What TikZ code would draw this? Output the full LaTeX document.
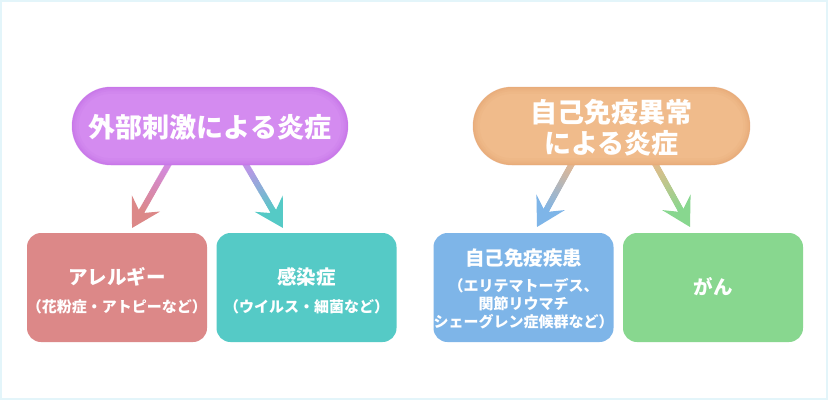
\documentclass[tikz,border=0pt]{standalone}
\usepackage{fontspec}
\setmainfont{Noto Sans CJK JP}
\usetikzlibrary{arrows.meta,calc}
\definecolor{frame}{HTML}{E3F5FA}
\definecolor{purp}{HTML}{D48BF0}
\definecolor{purpedge}{HTML}{BF66E6}
\definecolor{orng}{HTML}{F0BB8B}
\definecolor{orngedge}{HTML}{E39E6C}
\definecolor{pinkbox}{HTML}{DC8888}
\definecolor{tealbox}{HTML}{55CAC6}
\definecolor{bluebox}{HTML}{7EB5E8}
\definecolor{greenbox}{HTML}{88D78F}
\definecolor{arrpurp}{HTML}{D18AEE}
\definecolor{arrorng}{HTML}{EDB88A}
\newcommand{\gradarrow}[4]{%
  \foreach \i in {0,...,29}{%
    \pgfmathsetmacro\fa{0.78*\i/30}%
    \pgfmathsetmacro\fb{0.78*(\i+1.4)/30}%
    \pgfmathsetmacro\pc{100*\i/29}%
    \draw[line width=6pt, draw=#4!\pc!#3] ($(#1)!\fa!(#2)$) -- ($(#1)!\fb!(#2)$);
  }%
  \draw[line width=6pt, draw=#4, fill=#4, -{Stealth[length=28pt,width=32pt,inset=11pt]}] ($(#1)!0.74!(#2)$) -- (#2);
}
\begin{document}
\begin{tikzpicture}[x=1pt,y=-1pt,
  pill/.style={rectangle, rounded corners=39pt, minimum height=78pt, inner sep=0pt, text=white, align=center},
  box/.style={rectangle, rounded corners=14pt, minimum width=180pt, minimum height=109pt, inner sep=0pt},
  pilltext/.style={text=white, align=center, inner sep=0pt, font=\fontsize{27}{31}\selectfont\bfseries},
  titletext/.style={text=white, align=center, inner sep=0pt, font=\fontsize{19.5}{24}\selectfont\bfseries},
  subtext/.style={text=white, align=center, inner sep=0pt, font=\fontsize{15}{18}\selectfont\bfseries}]
\useasboundingbox (0,0) rectangle (828,400);
\fill[white] (0,0) rectangle (828,400);
\draw[frame, line width=2pt] (1,1) rectangle (827,399);

% arrows (drawn first, under the pills)
\coordinate (a1s) at (172,158); \coordinate (a1e) at (132,228);
\coordinate (a2s) at (242,158); \coordinate (a2e) at (283,228);
\coordinate (a3s) at (575,158); \coordinate (a3e) at (537,227);
\coordinate (a4s) at (652,158); \coordinate (a4e) at (690,227);
\gradarrow{a1s}{a1e}{arrpurp}{pinkbox}
\gradarrow{a2s}{a2e}{arrpurp}{tealbox}
\gradarrow{a3s}{a3e}{arrorng}{bluebox}
\gradarrow{a4s}{a4e}{arrorng}{greenbox}

% pills
\node[pill, fill=purp, minimum width=276pt] (p1) at (210,126) {};
\begin{scope}
  \clip[rounded corners=39pt] (p1.south west) rectangle (p1.north east);
  \foreach \w/\o in {14/0.10, 9/0.14, 5/0.18, 2/0.22}
    \draw[line width=\w pt, draw=purpedge, opacity=\o, rounded corners=39pt] (p1.south west) rectangle (p1.north east);
\end{scope}
\node[pilltext] (p1t) at (210,127) {外部刺激による炎症};

\node[pill, fill=orng, minimum width=277pt] (p2) at (611.5,126) {};
\begin{scope}
  \clip[rounded corners=39pt] (p2.south west) rectangle (p2.north east);
  \foreach \w/\o in {14/0.10, 9/0.14, 5/0.18, 2/0.22}
    \draw[line width=\w pt, draw=orngedge, opacity=\o, rounded corners=39pt] (p2.south west) rectangle (p2.north east);
\end{scope}
\node[pilltext] (p2t) at (611.5,127.5) {自己免疫異常\\による炎症};

% boxes
\node[box, fill=pinkbox] (b1) at (117,287.5) {};
\node[box, fill=tealbox] (b2) at (306.5,287.5) {};
\node[box, fill=bluebox] (b3) at (523.5,287.5) {};
\node[box, fill=greenbox] (b4) at (713,287.5) {};

\node[titletext] (b1t) at (117,277) {アレルギー};
\node[subtext] (b1s) at (117,307) {（花粉症・アトピーなど）};
\node[titletext] (b2t) at (306.5,277) {感染症};
\node[subtext] (b2s) at (306.5,307) {（ウイルス・細菌など）};
\node[titletext] (b3t) at (523.5,258) {自己免疫疾患};
\node[subtext] (b3s) at (523.5,304) {（エリテマトーデス、\\関節リウマチ\\シェーグレン症候群など）};
\node[titletext] (b4t) at (713,287) {がん};
\end{tikzpicture}
\end{document}
